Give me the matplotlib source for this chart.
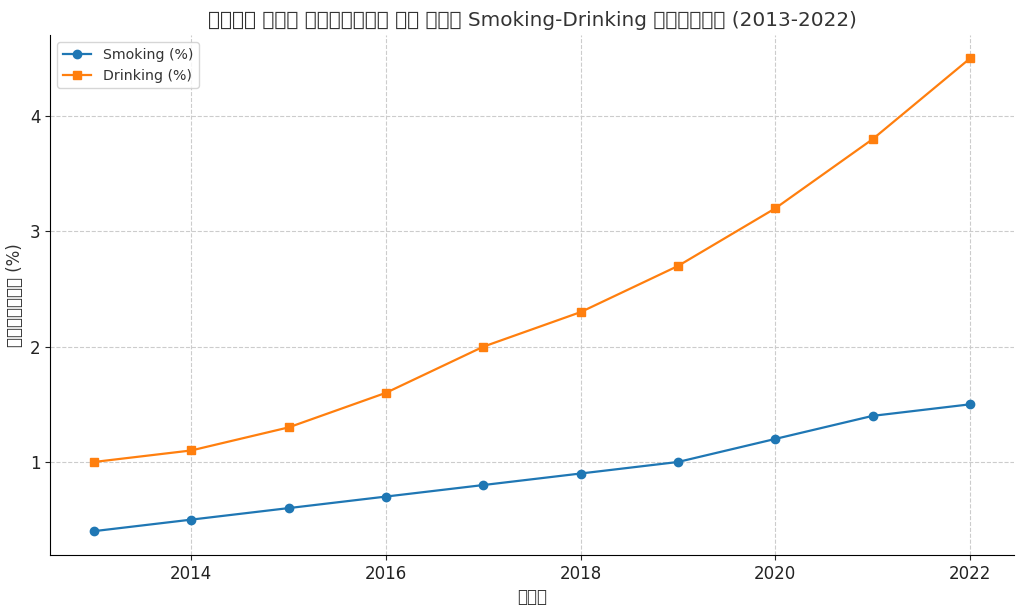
import matplotlib
matplotlib.use("Agg")
import matplotlib.pyplot as plt

years = [2013, 2014, 2015, 2016, 2017, 2018, 2019, 2020, 2021, 2022]
smoking = [0.4, 0.5, 0.6, 0.7, 0.8, 0.9, 1.0, 1.2, 1.4, 1.5]
drinking = [1.0, 1.1, 1.3, 1.6, 2.0, 2.3, 2.7, 3.2, 3.8, 4.5]

title = "भारत में किशोरों के बीच Smoking-Drinking प्रचलन (2013-2022)"
xlabel = "साल"
ylabel = "प्रतिशत (%)"

plt.rcParams['font.family'] = ['DejaVu Sans']
fig, ax = plt.subplots(figsize=(10.24, 6.11), dpi=100)
ax.plot(years, smoking, marker='o', color='#1f77b4', label='Smoking (%)', markersize=6, linewidth=1.6)
ax.plot(years, drinking, marker='s', color='#ff7f0e', label='Drinking (%)', markersize=6, linewidth=1.6)
ax.set_title(title, fontsize=14.4, color='#333333')
ax.set_xlabel(xlabel, fontsize=12, color='#333333')
ax.set_ylabel(ylabel, fontsize=12, color='#333333')
ax.tick_params(labelsize=12, colors='#222222')
ax.set_yticks([1, 2, 3, 4])
ax.set_xticks([2014, 2016, 2018, 2020, 2022])
ax.grid(True, linestyle='--', color='#cccccc', linewidth=0.8)
ax.spines['top'].set_visible(False)
ax.spines['right'].set_visible(False)
ax.legend(loc='upper left', fontsize=10.2, labelcolor='#333333')
fig.subplots_adjust(left=0.049, right=0.99, top=0.943, bottom=0.092)
fig.savefig("out.png", dpi=100)
